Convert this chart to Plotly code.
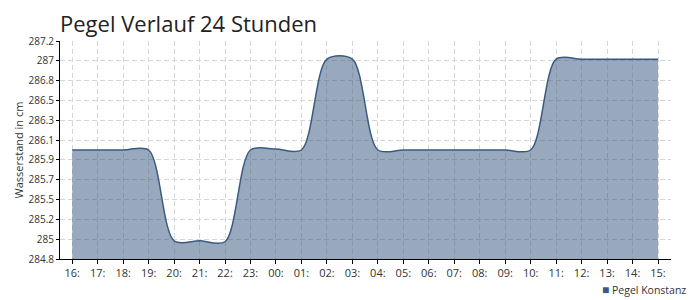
import numpy as np
import plotly.graph_objects as go

hour_labels = ["16:", "17:", "18:", "19:", "20:", "21:", "22:", "23:", "00:", "01:",
               "02:", "03:", "04:", "05:", "06:", "07:", "08:", "09:", "10:", "11:",
               "12:", "13:", "14:", "15:"]
pegel_values = [286.0, 286.0, 286.0, 286.0, 285.0, 285.0, 284.99, 286.0, 286.01, 286.0,
                287.0, 287.0, 286.0, 286.0, 286.0, 286.0, 286.0, 286.0, 286.0, 287.0,
                287.0, 287.0, 287.0, 287.0]
y_tick_labels = ["284.8", "285", "285.2", "285.5", "285.7", "285.9", "286.1",
                 "286.3", "286.5", "286.8", "287", "287.2"]
y_min, y_max = 284.8, 287.2
series_name = "Pegel Konstanz"
y_title = "Wasserstand in cm"

x_idx = list(range(len(hour_labels)))
y_tick_vals = list(np.linspace(y_min, y_max, len(y_tick_labels)))

line_col = "#3a5a82"
font_fam = "Open Sans, Noto Sans, sans-serif"
grid_col = "#d6d6d6"

fig = go.Figure()
fig.add_trace(go.Scatter(
    x=x_idx, y=pegel_values, mode="lines",
    line=dict(color=line_col, width=1.5, shape="spline", smoothing=0.85),
    fill="tozeroy", fillcolor="rgba(58,90,130,0.52)",
    showlegend=False, name=series_name, hoverinfo="skip"))

fig.add_annotation(
    text=f"<span style='color:{line_col};font-size:12px'>■</span> {series_name}",
    xref="paper", yref="paper", x=1.027, y=-0.14, xanchor="right", yanchor="middle",
    showarrow=False, borderpad=0,
    font=dict(size=10.5, color="#333333", family=font_fam))

fig.add_annotation(
    text=y_title, textangle=-90,
    xref="paper", yref="paper", x=-0.068, y=0.5, xanchor="center", yanchor="middle",
    showarrow=False, font=dict(size=11, color="#333333", family=font_fam))

fig.update_layout(
    width=700, height=300,
    margin=dict(l=60, r=29, t=41, b=41),
    paper_bgcolor="white", plot_bgcolor="white",
    font=dict(family=font_fam, size=11, color="#333333"),
    showlegend=False,
    title=dict(text="Pegel Verlauf 24 Stunden", x=0, xref="paper", xanchor="left",
               y=0.895, yref="container", yanchor="bottom",
               font=dict(size=22, color="#222222", family=font_fam)),
    xaxis=dict(range=[-0.48, 23.51], tickmode="array", tickvals=x_idx,
               ticktext=hour_labels, showline=True, linecolor="black", linewidth=1,
               ticks="outside", ticklen=4, tickcolor="black",
               showgrid=True, gridcolor=grid_col, griddash="5px,3px", gridwidth=1,
               zeroline=False, tickfont=dict(size=11)),
    yaxis=dict(range=[y_min, y_max], tickmode="array", tickvals=y_tick_vals,
               ticktext=y_tick_labels, showline=True, linecolor="black", linewidth=1,
               ticks="outside", ticklen=3, tickcolor="black",
               showgrid=True, gridcolor=grid_col, griddash="5px,3px", gridwidth=1,
               zeroline=False, tickfont=dict(size=10)),
)

fig.write_html("out.html")
